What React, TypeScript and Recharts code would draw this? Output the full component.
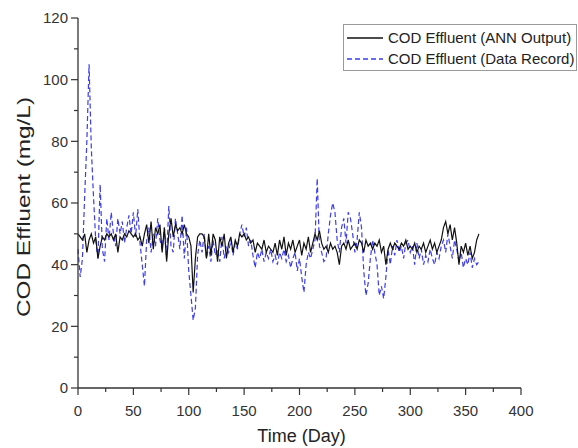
import React from 'react';
import { LineChart, Line, XAxis, YAxis, Legend } from 'recharts';

const days = [
  0, 2, 4, 6, 8, 10, 12, 14, 16, 18, 20, 22, 24, 26, 28, 30, 32, 34, 36, 38,
  40, 42, 44, 46, 48, 50, 52, 54, 56, 58, 60, 62, 64, 66, 68, 70, 72, 74, 76, 78,
  80, 82, 84, 86, 88, 90, 92, 94, 96, 98, 100, 102, 104, 106, 108, 110, 112, 114, 116, 118,
  120, 122, 124, 126, 128, 130, 132, 134, 136, 138, 140, 142, 144, 146, 148, 150, 152, 154, 156, 158,
  160, 162, 164, 166, 168, 170, 172, 174, 176, 178, 180, 182, 184, 186, 188, 190, 192, 194, 196, 198,
  200, 202, 204, 206, 208, 210, 212, 214, 216, 218, 220, 222, 224, 226, 228, 230, 232, 234, 236, 238,
  240, 242, 244, 246, 248, 250, 252, 254, 256, 258, 260, 262, 264, 266, 268, 270, 272, 274, 276, 278,
  280, 282, 284, 286, 288, 290, 292, 294, 296, 298, 300, 302, 304, 306, 308, 310, 312, 314, 316, 318,
  320, 322, 324, 326, 328, 330, 332, 334, 336, 338, 340, 342, 344, 346, 348, 350, 352, 354, 356, 358,
  360, 362,
];

const annOutput = [
  50, 49, 48, 50, 44, 48, 50, 47, 49, 42, 46, 49, 48, 50, 49, 50, 48, 50, 44, 49,
  48, 50, 49, 51, 50, 49, 50, 48, 49, 46, 50, 53, 47, 54, 45, 52, 50, 53, 44, 52,
  41, 50, 55, 49, 53, 51, 52, 50, 53, 50, 49, 46, 31, 42, 49, 50, 50, 49, 42, 50,
  43, 50, 48, 41, 49, 46, 50, 42, 47, 49, 44, 48, 46, 50, 49, 50, 48, 49, 47, 48,
  44, 47, 46, 45, 48, 44, 46, 45, 44, 47, 43, 48, 45, 49, 43, 47, 45, 48, 44, 46,
  48, 43, 47, 45, 49, 44, 47, 50, 48, 51, 47, 45, 46, 44, 47, 45, 46, 44, 40, 46,
  47, 45, 48, 45, 46, 47, 45, 48, 47, 44, 48, 46, 47, 45, 47, 46, 48, 44, 46, 40,
  45, 47, 45, 47, 46, 45, 47, 46, 48, 45, 46, 45, 47, 44, 46, 45, 47, 44, 46, 48,
  45, 47, 44, 46, 48, 52, 54, 50, 53, 48, 52, 47, 40, 46, 44, 47, 43, 46, 42, 44,
  48, 50,
];

const dataRecord = [
  45, 36, 42, 62, 80, 105, 78, 62, 48, 42, 66, 45, 41, 55, 48, 57, 50, 46, 55, 50,
  54, 47, 52, 56, 50, 57, 49, 58, 47, 40, 33, 48, 52, 44, 50, 46, 55, 48, 45, 52,
  42, 59, 46, 44, 55, 50, 45, 56, 42, 52, 38, 30, 22, 26, 43, 48, 44, 50, 42, 46,
  41, 48, 43, 45, 41, 49, 42, 46, 44, 48, 43, 47, 45, 50, 53, 49, 52, 46, 48, 43,
  39, 44, 42, 45, 41, 44, 42, 45, 41, 43, 40, 44, 42, 45, 41, 43, 39, 42, 44, 38,
  42, 36, 31, 40, 44, 42, 45, 48, 68, 46, 44, 41, 42, 50, 56, 60, 57, 48, 44, 52,
  55, 47, 57, 55, 50, 44, 48, 57, 52, 38, 30, 34, 42, 48, 44, 40, 30, 33, 29, 36,
  45, 40, 46, 43, 48, 44, 46, 42, 47, 48, 44, 46, 40, 47, 42, 45, 40, 43, 41, 45,
  42, 40, 44, 42, 46, 48, 44, 50, 46, 42, 48, 45, 41, 44, 39, 42, 40, 44, 39, 42,
  40, 41,
];

const xTicks = [0, 25, 50, 75, 100, 125, 150, 175, 200, 225, 250, 275, 300, 325, 350, 375, 400];
const yTicks = [0, 10, 20, 30, 40, 50, 60, 70, 80, 90, 100, 110, 120];

const seriesNames = ['COD Effluent (ANN Output)', 'COD Effluent (Data Record)'];
const seriesColors = ['#111111', '#3c3cf0'];
const seriesDash = ['', '5 3'];

const data = days.map((d, i) => ({ day: d, ann: annOutput[i], rec: dataRecord[i] }));

const FONT = '"Liberation Sans", Arial, sans-serif';
const AXIS = '#333333';
const TEXT = '#333333';
const Y_MARGIN = 10;
const X_MARGIN = 17;

const YTick = (props: any) => {
  const { x, y, payload } = props;
  const v = payload.value;
  const major = v % 20 === 0;
  const ax = x + Y_MARGIN;
  return (
    <g>
      <line x1={ax} x2={ax - (major ? 7 : 4)} y1={y} y2={y} stroke={AXIS} strokeWidth={1.2} />
      {major && (
        <text x={x} y={y} dy="0.36em" textAnchor="end" fontSize={15} fill={TEXT} fontFamily={FONT}>
          {v}
        </text>
      )}
    </g>
  );
};

const XTick = (props: any) => {
  const { x, y, payload } = props;
  const v = payload.value;
  const major = v % 50 === 0;
  const ay = y - X_MARGIN;
  return (
    <g>
      <line x1={x} x2={x} y1={ay} y2={ay + (major ? 7 : 4)} stroke={AXIS} strokeWidth={1.2} />
      {major && (
        <text x={x} y={y} dy="0.71em" textAnchor="middle" fontSize={15} fill={TEXT} fontFamily={FONT}>
          {v}
        </text>
      )}
    </g>
  );
};

const YTitle = (props: any) => {
  const vb = props.viewBox || { x: 0, y: 0, width: 0, height: 0 };
  const cx = vb.x + 24;
  const cy = vb.y + vb.height / 2 + 4;
  return (
    <text
      x={cx}
      y={cy}
      transform={`rotate(-90, ${cx}, ${cy})`}
      textAnchor="middle"
      dy="0.36em"
      fontSize={18}
      fill="#222"
      fontFamily={FONT}
      textLength={220}
      lengthAdjust="spacingAndGlyphs"
    >
      COD Effluent (mg/L)
    </text>
  );
};

const XTitle = (props: any) => {
  const vb = props.viewBox || { x: 0, y: 0, width: 0, height: 0 };
  return (
    <text x={vb.x + vb.width / 2 + 2} y={vb.y + 54} textAnchor="middle" fontSize={18} fill="#222" fontFamily={FONT}>
      Time (Day)
    </text>
  );
};

const renderLegend = () => (
  <div
    style={{
      border: '1px solid #9a9a9a',
      width: 234,
      height: 47,
      boxSizing: 'border-box',
      background: '#fff',
      fontFamily: FONT,
      fontSize: 15,
      color: '#222',
      paddingTop: 2,
    }}
  >
    {seriesNames.map((name, i) => (
      <div key={name} style={{ display: 'flex', alignItems: 'center', height: 21, whiteSpace: 'nowrap' }}>
        <svg width={40} height={10} style={{ marginLeft: 2, marginRight: 2 }}>
          <line
            x1={1}
            x2={37}
            y1={5}
            y2={5}
            stroke={seriesColors[i]}
            strokeWidth={1.3}
            strokeDasharray={seriesDash[i] || undefined}
          />
        </svg>
        <span>{name}</span>
      </div>
    ))}
  </div>
);

export default function App() {
  return (
    <div style={{ position: 'absolute', left: 0, top: 0, width: 578, height: 448, background: '#fff' }}>
      <LineChart width={578} height={448} data={data} margin={{ top: 18, right: 57, bottom: 0, left: 0 }}>
        <XAxis
          type="number"
          dataKey="day"
          domain={[0, 400]}
          ticks={xTicks}
          interval={0}
          height={60}
          tickSize={0}
          tickMargin={X_MARGIN}
          tickLine={false}
          tick={<XTick />}
          axisLine={{ stroke: AXIS, strokeWidth: 1.3 }}
          label={<XTitle />}
        />
        <YAxis
          type="number"
          domain={[0, 120]}
          ticks={yTicks}
          interval={0}
          width={78}
          tickSize={0}
          tickMargin={Y_MARGIN}
          tickLine={false}
          tick={<YTick />}
          axisLine={{ stroke: AXIS, strokeWidth: 1.3 }}
          label={<YTitle />}
        />
        <Legend
          verticalAlign="middle"
          align="center"
          layout="horizontal"
          wrapperStyle={{ position: 'absolute', left: 343, top: 24, width: 234 }}
          content={renderLegend}
        />
        <Line
          type="linear"
          dataKey="rec"
          name={seriesNames[1]}
          stroke={seriesColors[1]}
          strokeWidth={1.2}
          strokeDasharray={seriesDash[1]}
          dot={false}
          isAnimationActive={false}
        />
        <Line
          type="linear"
          dataKey="ann"
          name={seriesNames[0]}
          stroke={seriesColors[0]}
          strokeWidth={1.2}
          dot={false}
          isAnimationActive={false}
        />
      </LineChart>
    </div>
  );
}
